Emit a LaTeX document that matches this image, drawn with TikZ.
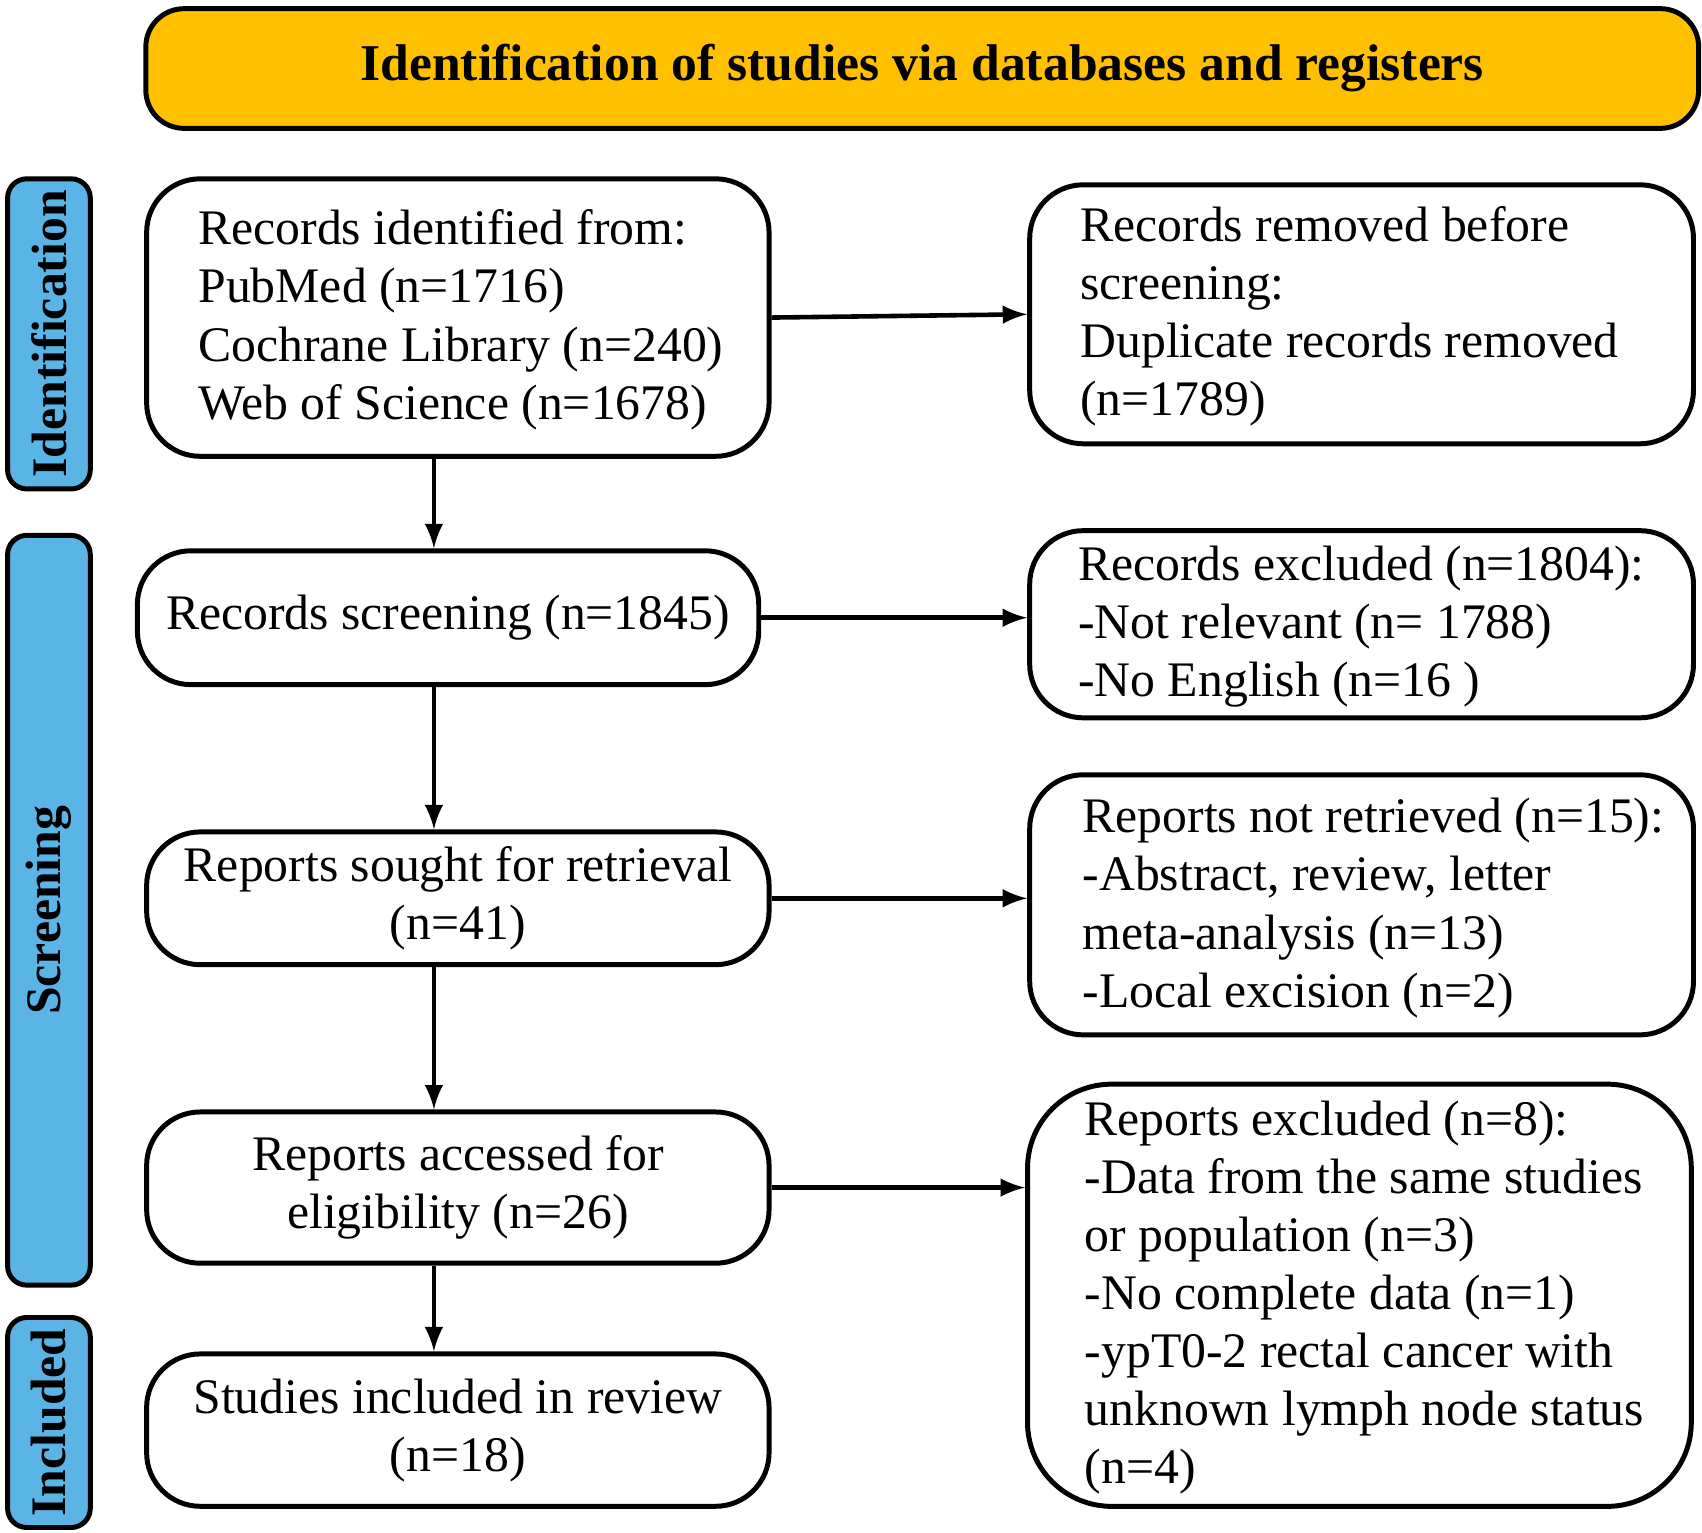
\documentclass[tikz,border=0pt]{standalone}
\usepackage{fontspec}
\setmainfont{Liberation Serif}
\usetikzlibrary{arrows}
\definecolor{hdr}{HTML}{FFC000}
\definecolor{side}{HTML}{5BB4E6}
\tikzset{box/.style={draw, line width=1.3pt, rounded corners=14pt, inner sep=0pt},
  stage/.style={draw, line width=1.3pt, rounded corners=5pt, fill=side, inner sep=0pt},
  txt/.style={font=\fontsize{13}{15.2}\selectfont},
  link/.style={->, >=latex, line width=1.2pt}}
\begin{document}
\begin{tikzpicture}[x=0.01cm, y=-0.01cm]
      \useasboundingbox (0, 0) rectangle (1565, 1409);

      \node [box, rounded corners=10pt, fill=hdr, minimum width=14.27cm, minimum height=1.1cm] (head) at (848, 63) {};
      \node [txt, font=\fontsize{13.5}{15}\selectfont\bfseries] at (head) {Identification of studies via databases and registers};

      \node [stage, minimum width=0.76cm, minimum height=2.85cm] (sid) at (45, 307) {};
      \node [rotate=90, font=\fontsize{13}{15}\selectfont\bfseries] at (sid) {Identification};
      \node [stage, minimum width=0.76cm, minimum height=6.89cm] (sscr) at (45, 837) {};
      \node [rotate=90, font=\fontsize{13}{15}\selectfont\bfseries] at (sscr) {Screening};
      \node [stage, minimum width=0.76cm, minimum height=1.93cm] (sinc) at (45, 1308) {};
      \node [rotate=90, font=\fontsize{13}{15}\selectfont\bfseries] at (sinc) {Included};

      \node [box, minimum width=5.72cm, minimum height=2.55cm] (ident) at (421, 292) {};
      \node [txt, align=left, anchor=west] at (170, 294) {Records identified from:\\PubMed (n=1716)\\Cochrane Library (n=240)\\Web of Science (n=1678)};
      \node [box, minimum width=5.71cm, minimum height=1.23cm] (screen) at (412, 568) {};
      \node [txt] at (screen) {Records screening (n=1845)};
      \node [box, minimum width=5.72cm, minimum height=1.22cm] (sought) at (421, 826) {};
      \node [txt, align=center] at (sought) {Reports sought for retrieval\\(n=41)};
      \node [box, minimum width=5.72cm, minimum height=1.39cm] (elig) at (421, 1092) {};
      \node [txt, align=center] at (elig) {Reports accessed for\\eligibility (n=26)};
      \node [box, minimum width=5.72cm, minimum height=1.4cm] (incl) at (421, 1315) {};
      \node [txt, align=center] at (incl) {Studies included in review\\(n=18)};

      \node [box, minimum width=6.1cm, minimum height=2.38cm] (dup) at (1252, 289) {};
      \node [txt, align=left, anchor=west] at (981, 291) {Records removed before\\screening:\\Duplicate records removed\\(n=1789)};
      \node [box, minimum width=6.1cm, minimum height=1.72cm] (excl) at (1252, 574) {};
      \node [txt, align=left, anchor=west] at (979, 576) {Records excluded (n=1804):\\-Not relevant (n= 1788)\\-No English (n=16 )};
      \node [box, minimum width=6.1cm, minimum height=2.39cm] (notret) at (1252, 832) {};
      \node [txt, align=left, anchor=west] at (983, 835) {Reports not retrieved (n=15):\\-Abstract, review, letter\\meta-analysis (n=13)\\-Local excision (n=2)};
      \node [box, rounded corners=22pt, minimum width=6.1cm, minimum height=3.88cm] (rexcl) at (1250, 1191) {};
      \node [txt, align=left, anchor=west] at (985, 1193) {Reports excluded (n=8):\\-Data from the same studies\\or population (n=3)\\-No complete data (n=1)\\-ypT0-2 rectal cancer with\\unknown lymph node status\\(n=4)};

      \draw [link] (ident.south -| 399, 0) -- (screen.north -| 399, 0);
      \draw [link] (screen.south -| 399, 0) -- (sought.north -| 399, 0);
      \draw [link] (sought.south -| 399, 0) -- (elig.north -| 399, 0);
      \draw [link] (elig.south -| 399, 0) -- (incl.north -| 399, 0);

      \draw [link] (ident.east) -- (dup.west);
      \draw [link] (screen.east) -- (excl.west |- screen.east);
      \draw [link] (sought.east) -- (notret.west |- sought.east);
      \draw [link] (elig.east) -- (rexcl.west |- elig.east);
    \end{tikzpicture}
\end{document}
